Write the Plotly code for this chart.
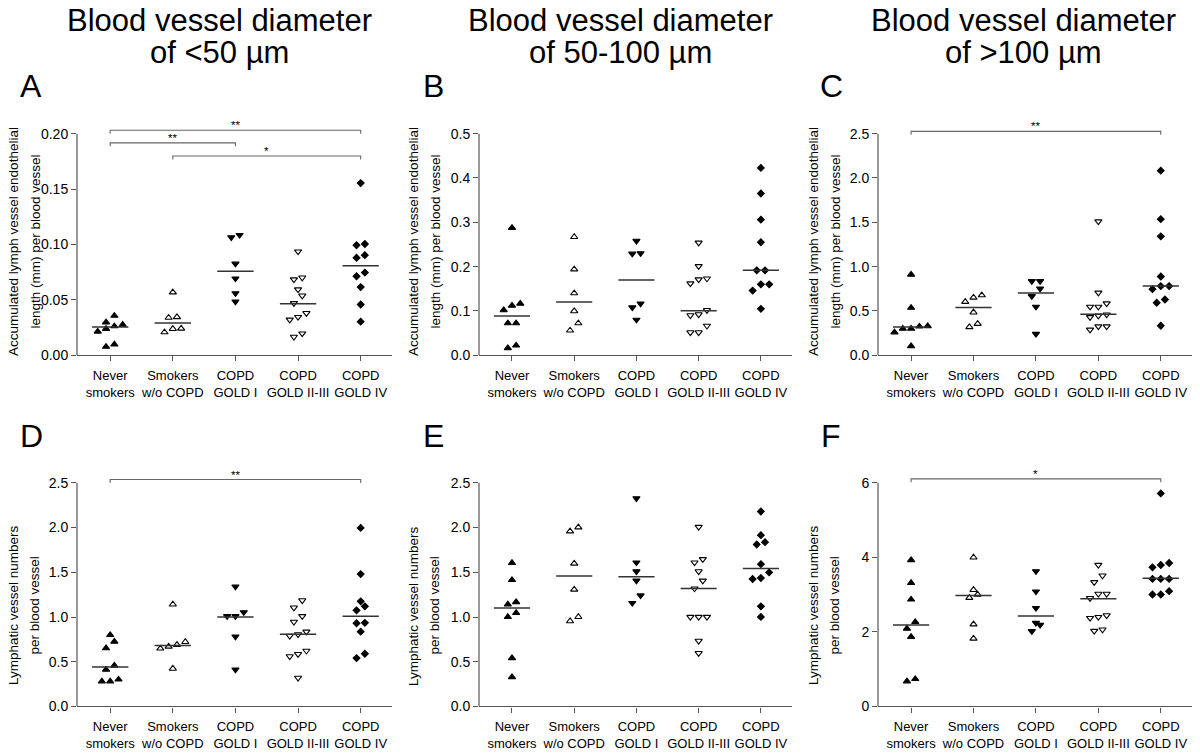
import numpy as np
import plotly.graph_objects as go

W, H = 1200, 756
OFF = 8                      # page body margin of the browser
FW, FH = W - OFF, H - OFF    # figure size so it fits the window
FONT = "Liberation Sans, Arial, sans-serif"
AXC = "#555555"

categories = ["Never<br>smokers", "Smokers<br>w/o COPD", "COPD<br>GOLD I",
              "COPD<br>GOLD II-III", "COPD<br>GOLD IV"]
symbols = ["triangle-up", "triangle-up-open", "triangle-down",
           "triangle-down-open", "diamond"]

# ---- Panel A: accumulated LV endothelial length, vessels <50 um ----
a_never = [0.0357, 0.0297, 0.0276, 0.0262, 0.0238, 0.0214, 0.0098, 0.0077]
a_smokers = [0.0568, 0.0345, 0.0339, 0.0241, 0.0238, 0.0208]
a_gold1 = [0.1085, 0.1064, 0.0826, 0.0692, 0.0559, 0.0484]
a_gold23 = [0.0936, 0.0701, 0.0684, 0.0594, 0.0538, 0.0470, 0.0380, 0.0345,
            0.0321, 0.0196, 0.0166]
a_gold4 = [0.1554, 0.1004, 0.0993, 0.0903, 0.0880, 0.0746, 0.0713, 0.0615,
           0.0458, 0.0303]
a_median = [0.0256, 0.0291, 0.0758, 0.0464, 0.0808]

# ---- Panel B: 50-100 um ----
b_never = [0.2876, 0.1165, 0.1121, 0.1018, 0.0723, 0.0723, 0.0221, 0.0162]
b_smokers = [0.267, 0.194, 0.140, 0.0996, 0.0723, 0.056]
b_gold1 = [0.258, 0.229, 0.230, 0.1165, 0.108, 0.080]
b_gold23 = [0.254, 0.201, 0.173, 0.171, 0.162, 0.1018, 0.0922, 0.090,
            0.0664, 0.0516, 0.0516]
b_gold4 = [0.4226, 0.365, 0.306, 0.255, 0.1917, 0.1917, 0.160, 0.160,
           0.146, 0.1047]
b_median = [0.0885, 0.120, 0.170, 0.1003, 0.1917]

# ---- Panel C: >100 um ----
c_never = [0.910, 0.536, 0.325, 0.300, 0.259, 0.300, 0.329, 0.1036]
c_smokers = [0.677, 0.603, 0.651, 0.484, 0.355, 0.318]
c_gold1 = [0.836, 0.836, 0.751, 0.666, 0.547, 0.240]
c_gold23 = [1.509, 0.706, 0.584, 0.547, 0.547, 0.447, 0.429, 0.459, 0.325,
            0.288, 0.325]
c_gold4 = [2.082, 1.535, 1.342, 0.888, 0.780, 0.780, 0.745, 0.629, 0.592,
           0.333]
c_median = [0.318, 0.540, 0.703, 0.462, 0.780]

# ---- Panel D: lymphatic vessel numbers, <50 um ----
d_never = [0.799, 0.725, 0.652, 0.457, 0.412, 0.302, 0.280, 0.280]
d_smokers = [1.141, 0.722, 0.670, 0.648, 0.689, 0.423]
d_gold1 = [1.340, 1.053, 1.009, 1.009, 0.781, 0.412]
d_gold23 = [1.186, 1.105, 1.009, 0.946, 0.836, 0.788, 0.806, 0.585, 0.560,
            0.622, 0.320]
d_gold4 = [1.996, 1.480, 1.175, 1.119, 1.075, 0.935, 0.930, 0.836, 0.589,
           0.541]
d_median = [0.442, 0.681, 1.0, 0.806, 1.009]

# ---- Panel E: 50-100 um ----
e_never = [1.605, 1.414, 1.167, 1.141, 1.001, 1.046, 0.541, 0.328]
e_smokers = [2.003, 1.959, 1.598, 1.307, 0.954, 1.001]
e_gold1 = [2.327, 1.609, 1.510, 1.406, 1.241, 1.156]
e_gold23 = [2.007, 1.646, 1.609, 1.510, 1.406, 1.318, 1.001, 1.001, 1.001,
            0.733, 0.596]
e_gold4 = [2.180, 1.915, 1.811, 1.837, 1.591, 1.499, 1.425, 1.436, 1.119,
           1.001]
e_median = [1.101, 1.458, 1.451, 1.318, 1.543]

# ---- Panel F: >100 um ----
f_never = [3.929, 3.316, 2.871, 2.267, 2.089, 1.867, 0.676, 0.738]
f_smokers = [4.0, 3.129, 2.916, 3.004, 2.204, 1.822]
f_gold1 = [3.627, 3.084, 2.640, 2.240, 2.187, 2.018]
f_gold23 = [3.796, 3.511, 3.333, 3.022, 3.022, 2.907, 2.400, 2.373, 2.444,
            2.027, 2.062]
f_gold4 = [5.716, 3.849, 3.733, 3.796, 3.422, 3.422, 3.422, 3.093, 3.004,
           3.004]
f_median = [2.187, 2.978, 2.427, 2.889, 3.44]

# significance brackets: (from category, to category, label, bracket height)
a_comps = [(0, 4, "**", 0.203), (0, 2, "**", 0.1917), (1, 4, "*", 0.1798)]
b_comps = []
c_comps = [(0, 4, "**", 2.526)]
d_comps = [(0, 4, "**", 2.537)]
e_comps = []
f_comps = [(0, 4, "*", 6.107)]

col_titles = ["Blood vessel diameter", "Blood vessel diameter", "Blood vessel diameter"]
col_subtitles = ["of <50 µm", "of 50-100 µm", "of >100 µm"]
panel_letters = ["A", "B", "C", "D", "E", "F"]
ytitle_top = ["Accumulated lymph vessel endothelial", "length (mm) per blood vessel"]
ytitle_bottom = ["Lymphatic vessel numbers", "per blood vessel"]

panels = [
    dict(groups=[a_never, a_smokers, a_gold1, a_gold23, a_gold4], med=a_median,
         tmax=0.20, dtick=0.05, fmt=".2f", comps=a_comps),
    dict(groups=[b_never, b_smokers, b_gold1, b_gold23, b_gold4], med=b_median,
         tmax=0.5, dtick=0.1, fmt=".1f", comps=b_comps),
    dict(groups=[c_never, c_smokers, c_gold1, c_gold23, c_gold4], med=c_median,
         tmax=2.5, dtick=0.5, fmt=".1f", comps=c_comps),
    dict(groups=[d_never, d_smokers, d_gold1, d_gold23, d_gold4], med=d_median,
         tmax=2.5, dtick=0.5, fmt=".1f", comps=d_comps),
    dict(groups=[e_never, e_smokers, e_gold1, e_gold23, e_gold4], med=e_median,
         tmax=2.5, dtick=0.5, fmt=".1f", comps=e_comps),
    dict(groups=[f_never, f_smokers, f_gold1, f_gold23, f_gold4], med=f_median,
         tmax=6, dtick=2, fmt="d", comps=f_comps),
]

# layout geometry (window pixels)
col_px = [(77, 392), (479, 792), (878, 1192)]
row_px = [(359, 135), (714, 488)]  # (y of zero, y of top tick)
HEAD = 1.04
XR = [-0.53, 4.5]
SPACING = 0.133   # horizontal spread step (category units)
ROW_H = 8         # px: points closer than this share a row


def fx(p):
    return (p - OFF) / FW


def fy(p):
    return 1 - (p - OFF) / FH


def swarm(vals, px_per_unit, cat):
    vals = np.asarray(vals, float)
    order = np.argsort(vals, kind="stable")
    xs = np.zeros(len(vals))
    rows, cur, start = [], [], None
    for i in order:
        p = vals[i] * px_per_unit
        if cur and p - start < ROW_H:
            cur.append(i)
        else:
            if cur:
                rows.append(cur)
            cur, start = [i], p
    if cur:
        rows.append(cur)
    for r in rows:
        k = len(r)
        for m, i in enumerate(r):
            xs[i] = cat + (m - (k - 1) / 2) * SPACING
    return xs


fig = go.Figure()
layout = dict(width=FW, height=FH, margin=dict(l=0, r=0, t=0, b=0),
              paper_bgcolor="white", plot_bgcolor="white", showlegend=False,
              font=dict(family=FONT, color="black"))
shapes, annots = [], []

for pi, p in enumerate(panels):
    r, c = divmod(pi, 3)
    xref = "x" if pi == 0 else f"x{pi+1}"
    yref = "y" if pi == 0 else f"y{pi+1}"
    xa = "xaxis" if pi == 0 else f"xaxis{pi+1}"
    ya = "yaxis" if pi == 0 else f"yaxis{pi+1}"
    x0p, x1p = col_px[c]
    y0p, ytp = row_px[r]
    ppu = (y0p - ytp) / p["tmax"]
    ytop_px = y0p - (y0p - ytp) * HEAD
    layout[xa] = dict(domain=[fx(x0p), fx(x1p)], range=XR, anchor=yref,
                      tickvals=list(range(5)), ticktext=categories,
                      ticks="outside", ticklen=5, tickwidth=1.2, tickcolor=AXC,
                      showline=True, linecolor=AXC, linewidth=1.2,
                      showgrid=False, zeroline=False, ticklabelstandoff=3,
                      tickfont=dict(size=13, color="black", family=FONT))
    layout[ya] = dict(domain=[fy(y0p), fy(ytop_px)],
                      range=[0, p["tmax"] * HEAD], anchor=xref,
                      tickmode="linear", tick0=0, dtick=p["dtick"],
                      tickformat=p["fmt"], ticks="outside", ticklen=5,
                      tickwidth=1.2, tickcolor=AXC, showline=False,
                      showgrid=False, zeroline=False,
                      tickfont=dict(size=14, color="black", family=FONT))
    # y axis line from zero to the top tick
    shapes.append(dict(type="line", xref=f"{xref} domain", yref=yref,
                       x0=0, x1=0, y0=0, y1=p["tmax"],
                       line=dict(color=AXC, width=1.2)))
    for gi, vals in enumerate(p["groups"]):
        xs = swarm(vals, ppu, gi)
        fig.add_trace(go.Scatter(
            x=xs, y=vals, mode="markers", xaxis=xref, yaxis=yref,
            cliponaxis=False,
            marker=dict(symbol=symbols[gi],
                        size=5.2 if symbols[gi] == "diamond" else 6.3,
                        color="black", line=dict(color="black", width=1.1))))
    for gi, m in enumerate(p["med"]):
        fig.add_trace(go.Scatter(
            x=[gi - 0.29, gi + 0.29], y=[m, m], mode="lines",
            xaxis=xref, yaxis=yref, line=dict(color="#333333", width=1.5)))
    drop = 3.5 / ppu
    for (i, j, lab, yb) in p["comps"]:
        fig.add_trace(go.Scatter(
            x=[i, i, j, j], y=[yb - drop, yb, yb, yb - drop], mode="lines",
            xaxis=xref, yaxis=yref, cliponaxis=False,
            line=dict(color="#666666", width=1.1)))
        annots.append(dict(x=(i + j) / 2, y=yb, xref=xref, yref=yref,
                           text=lab, showarrow=False, yanchor="bottom",
                           yshift=-3, font=dict(size=11.5, color="#000000")))
    # y axis titles (two rotated lines)
    lines = ytitle_top if r == 0 else ytitle_bottom
    yc = 244 if r == 0 else 612
    for li, txt in enumerate(lines):
        annots.append(dict(x=fx(13.5 + 21.5 * li + 400 * c), y=fy(yc),
                           xref="paper", yref="paper", text=txt,
                           textangle=-90, showarrow=False,
                           xanchor="center", yanchor="middle",
                           font=dict(size=13.5, color="black")))
    # panel letter
    lx = [31, 433, 831][c]
    ly = 87 if r == 0 else 441
    annots.append(dict(x=fx(lx), y=fy(ly), xref="paper", yref="paper",
                       text=panel_letters[pi], showarrow=False,
                       xanchor="center", yanchor="middle",
                       font=dict(size=32, color="black")))

for c in range(3):
    cx = [219, 620, 1023][c]
    annots.append(dict(x=fx(cx), y=fy(20.5), xref="paper", yref="paper",
                       text=col_titles[c], showarrow=False, xanchor="center",
                       yanchor="middle", font=dict(size=31, color="black")))
    annots.append(dict(x=fx(cx), y=fy(52.5), xref="paper", yref="paper",
                       text=col_subtitles[c], showarrow=False, xanchor="center",
                       yanchor="middle", font=dict(size=31, color="black")))

layout["shapes"] = shapes
layout["annotations"] = annots
fig.update_layout(**layout)
fig.write_html("out.html")
